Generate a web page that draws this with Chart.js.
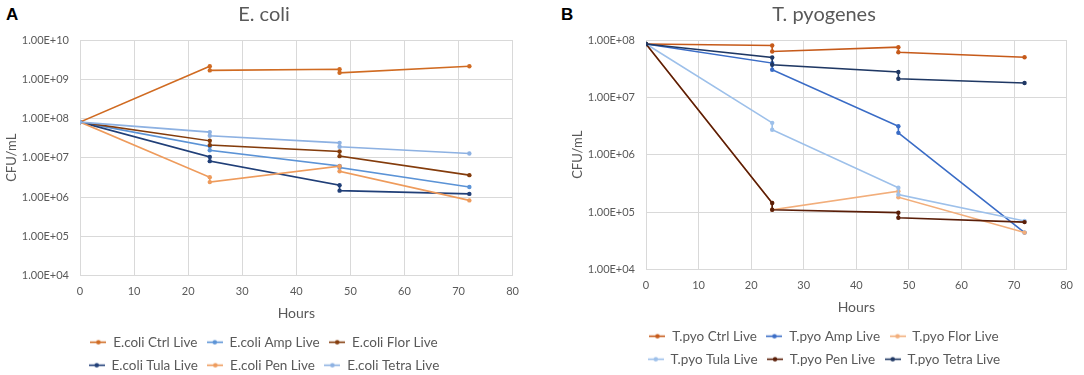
<!DOCTYPE html>
<html>
<head>
<meta charset="utf-8">
<script src="https://cdn.jsdelivr.net/npm/chart.js@4.4.1/dist/chart.umd.min.js"></script>
<style>
  html, body { margin: 0; padding: 0; background: #fff; overflow: hidden; }
  body { width: 1084px; height: 375px; position: relative; }
  .panel { position: absolute; top: 0; }
  #panelA { left: 0; width: 528px; height: 382px; }
  #panelB { left: 566px; width: 516px; height: 376px; }
  .tag { position: absolute; font: bold 17px "Liberation Sans", Arial, sans-serif; color: #000; }
</style>
</head>
<body>
<div class="tag" style="left:6px;top:5px">A</div>
<div class="tag" style="left:561px;top:5px">B</div>
<div class="panel" id="panelA"><canvas id="chartA"></canvas></div>
<div class="panel" id="panelB"><canvas id="chartB"></canvas></div>
<script>
// sampling times (two readings at 24 h and 48 h)
const hours = [0, 24, 24, 48, 48, 72];

// E. coli, CFU/mL
const ecoliCtrl  = [8.1e7, 2.15e9, 1.68e9, 1.8e9, 1.46e9, 2.15e9];
const ecoliAmp   = [8.1e7, 1.95e7, 1.55e7, 6.2e6, 5.6e6, 1.8e6];
const ecoliFlor  = [8.1e7, 2.7e7, 2.1e7, 1.45e7, 1.1e7, 3.6e6];
const ecoliTula  = [8.1e7, 1.05e7, 8.2e6, 2.0e6, 1.45e6, 1.2e6];
const ecoliPen   = [8.1e7, 3.2e6, 2.4e6, 6.1e6, 4.5e6, 8.2e5];
const ecoliTetra = [8.1e7, 4.5e7, 3.65e7, 2.4e7, 1.9e7, 1.28e7];

// T. pyogenes, CFU/mL
const tpyoCtrl  = [8.5e7, 8.0e7, 6.3e7, 7.5e7, 6.1e7, 5.0e7];
const tpyoAmp   = [8.5e7, 3.96e7, 3.03e7, 3.13e6, 2.41e6, 4.4e4];
const tpyoFlor  = [8.5e7, 1.44e5, 1.10e5, 2.32e5, 1.82e5, 4.4e4];
const tpyoTula  = [8.5e7, 3.6e6, 2.72e6, 2.66e5, 2.03e5, 7.0e4];
const tpyoPen   = [8.5e7, 1.44e5, 1.10e5, 9.8e4, 8.0e4, 6.7e4];
const tpyoTetra = [8.5e7, 4.96e7, 3.71e7, 2.77e7, 2.11e7, 1.78e7];

const ecoliLabels = ["E.coli Ctrl Live", "E.coli Amp Live", "E.coli Flor Live", "E.coli Tula Live", "E.coli Pen Live", "E.coli Tetra Live"];
const tpyoLabels = ["T.pyo Ctrl Live", "T.pyo Amp Live", "T.pyo Flor Live", "T.pyo Tula Live", "T.pyo Pen Live", "T.pyo Tetra Live"];

const ecoliTicks = [1e4, 1e5, 1e6, 1e7, 1e8, 1e9, 1e10];
const tpyoTicks = [1e4, 1e5, 1e6, 1e7, 1e8];
const hourTicks = [0, 10, 20, 30, 40, 50, 60, 70, 80];

const ecoliColors = ["#D06B22", "#5B93D6", "#843C0C", "#203F78", "#EE9B5C", "#8DB1E2"];
const tpyoColors = ["#C65A1A", "#3A6CC6", "#F2AE7B", "#9DC0EA", "#5A1E08", "#1F3864"];

Chart.defaults.font.family = "Lato, 'Open Sans', sans-serif";
Chart.defaults.color = "#595959";

const gridColor = "#d9d9d9";

// 1.00E+08 style labels
function sci(v) {
  const e = Math.round(Math.log10(v));
  const m = v / Math.pow(10, e);
  return m.toFixed(2) + "E+" + String(e).padStart(2, "0");
}

// small line-with-dot marker for the legend
function marker(color) {
  const c = document.createElement("canvas");
  c.width = 16; c.height = 7;
  const g = c.getContext("2d");
  g.strokeStyle = color; g.lineWidth = 1.6;
  g.beginPath(); g.moveTo(0, 3.5); g.lineTo(16, 3.5); g.stroke();
  g.fillStyle = color;
  g.beginPath(); g.arc(8, 3.5, 2.2, 0, Math.PI * 2); g.fill();
  return c;
}

// keep three legend entries per row like the original
const threePerRow = {
  id: "threePerRow",
  beforeLayout(chart) {
    const lg = chart.legend;
    if (!lg || lg._threePatched) return;
    lg._threePatched = true;
    const fitRows = lg._fitRows;
    lg._fitRows = function (...args) {
      const full = this.maxWidth;
      this.maxWidth = Math.min(full, 400);
      const h = fitRows.apply(this, args);
      this.maxWidth = full;
      return h;
    };
  }
};

function makeDatasets(labels, seriesList, colors) {
  return seriesList.map((values, i) => ({
    label: labels[i],
    data: values.map((v, k) => ({ x: hours[k], y: v })),
    borderColor: colors[i],
    backgroundColor: colors[i],
    borderWidth: 1.6,
    pointRadius: 2.2,
    pointBorderWidth: 0,
    pointHoverRadius: 2.2,
    tension: 0,
    order: 6 - i
  }));
}

function makeOptions(titleText, yMin, yMax, yTicks) {
  return {
    responsive: true,
    maintainAspectRatio: false,
    animation: false,
    layout: { padding: 0 },
    plugins: {
      title: {
        display: true,
        text: titleText,
        font: { size: 20, weight: "normal" },
        padding: { top: 3, bottom: 13 }
      },
      legend: {
        position: "bottom",
        labels: {
          usePointStyle: true,
          pointStyleWidth: 16,
          padding: 9.5,
          font: { size: 13.5 },
          sort: (a, b) => a.datasetIndex - b.datasetIndex,
          generateLabels(chart) {
            const items = Chart.defaults.plugins.legend.labels.generateLabels(chart);
            items.forEach(it => {
              it.pointStyle = marker(chart.data.datasets[it.datasetIndex].borderColor);
            });
            return items;
          }
        }
      },
      tooltip: { enabled: false }
    },
    scales: {
      x: {
        type: "linear",
        min: 0,
        max: 80,
        afterBuildTicks: s => { s.ticks = hourTicks.map(v => ({ value: v })); },
        ticks: { padding: 9, font: { size: 11 } },
        grid: { color: gridColor, drawTicks: false },
        border: { color: gridColor },
        title: { display: true, text: "Hours", font: { size: 14 }, padding: { top: -2, bottom: 4.5 } }
      },
      y: {
        type: "logarithmic",
        min: yMin,
        max: yMax,
        afterBuildTicks: s => { s.ticks = yTicks.map(v => ({ value: v })); },
        afterFit: s => { s.width = 80; },
        ticks: { padding: 11, font: { size: 11 }, callback: v => sci(v) },
        grid: { color: gridColor, drawTicks: false },
        border: { color: gridColor },
        title: { display: true, text: "CFU/mL", font: { size: 13 }, padding: { top: 4, bottom: 4 } }
      }
    }
  };
}

new Chart(document.getElementById("chartA"), {
  type: "line",
  data: {
    datasets: makeDatasets(ecoliLabels,
      [ecoliCtrl, ecoliAmp, ecoliFlor, ecoliTula, ecoliPen, ecoliTetra], ecoliColors)
  },
  options: makeOptions("E. coli", 1e4, 1e10, ecoliTicks),
  plugins: [threePerRow]
});

new Chart(document.getElementById("chartB"), {
  type: "line",
  data: {
    datasets: makeDatasets(tpyoLabels,
      [tpyoCtrl, tpyoAmp, tpyoFlor, tpyoTula, tpyoPen, tpyoTetra], tpyoColors)
  },
  options: makeOptions("T. pyogenes", 1e4, 1e8, tpyoTicks),
  plugins: [threePerRow]
});
</script>
</body>
</html>
